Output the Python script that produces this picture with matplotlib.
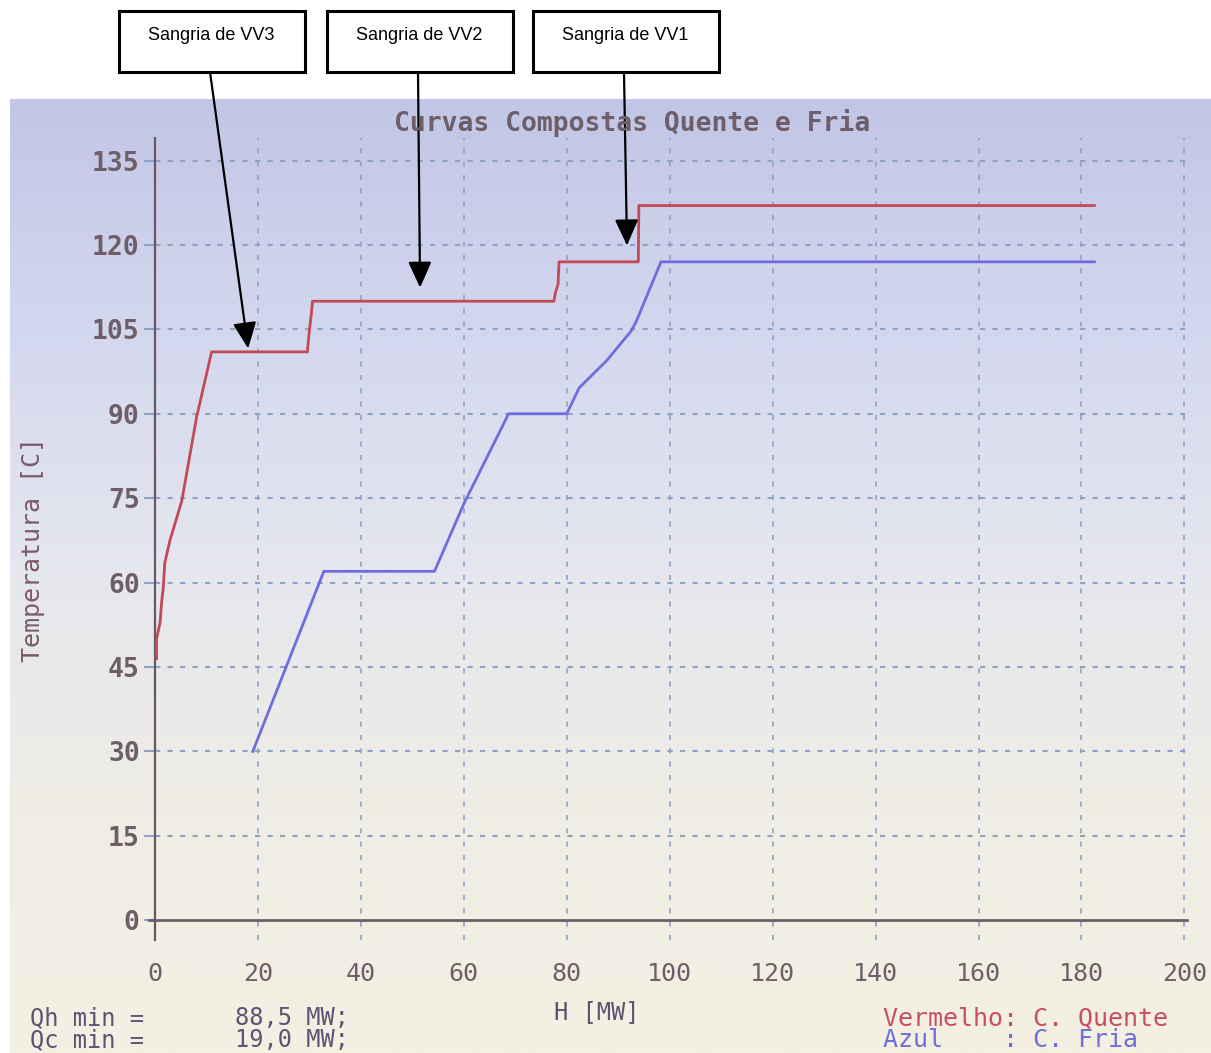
import numpy as np
import matplotlib
matplotlib.use('Agg')
import matplotlib.pyplot as plt
from matplotlib.patches import Rectangle
from matplotlib.ticker import MultipleLocator

# Hot composite curve (Vermelho)
hot_H = [0.3, 0.3, 1.0, 1.3, 1.6, 1.9, 2.9, 5.2, 8.1, 11.0, 29.6, 29.9, 30.4, 30.6,
         77.5, 77.8, 78.3, 78.5, 93.9, 94.0, 182.5]
hot_T = [46.5, 50.0, 53.0, 56.7, 59.0, 63.5, 67.5, 74.5, 89.5, 101.0, 101.0, 104.0, 108.0, 110.0,
         110.0, 111.5, 113.0, 117.0, 117.0, 127.0, 127.0]

# Cold composite curve (Azul)
cold_H = [19.0, 32.8, 54.3, 60.0, 68.7, 80.0, 82.4, 87.8, 92.5, 93.5, 98.3, 182.5]
cold_T = [30.0, 62.0, 62.0, 74.0, 90.0, 90.0, 94.6, 99.5, 104.7, 106.4, 117.0, 117.0]

x_ticks = [0, 20, 40, 60, 80, 100, 120, 140, 160, 180, 200]
y_ticks = [0, 15, 30, 45, 60, 75, 90, 105, 120, 135]

# steam extraction callouts: label, box left edge [px], arrow target (H, T)
bleed_labels = ['Sangria de VV3', 'Sangria de VV2', 'Sangria de VV1']
bleed_box_x = [119, 327, 533]
bleed_target_H = [18.1, 51.5, 91.7]
bleed_target_T = [101.6, 112.4, 119.9]

qh_min = '88,5'
qc_min = '19,0'

W, H = 1211, 1053
fig = plt.figure(figsize=(W / 100, H / 100), dpi=100)
fig.patch.set_facecolor('white')

def fx(px):
    return px / W

def fy(py):
    return 1 - py / H

# screen background: lavender at the top fading to cream at the bottom
bg = fig.add_axes([fx(10), 0, 1 - fx(10), fy(99)])
stops = np.array([[194, 198, 230], [212, 216, 238], [230, 231, 238], [239, 237, 229], [244, 240, 226]]) / 255
pos = np.linspace(0, 1, len(stops))
t = np.linspace(0, 1, 400)
grad = np.stack([np.interp(t, pos, stops[:, c]) for c in range(3)], axis=-1)
bg.imshow(grad[:, None, :], aspect='auto', extent=[0, 1, 0, 1])
bg.set_axis_off()
bg.set_zorder(-5)

mono = 'DejaVu Sans Mono'
tick_col = '#6e5e68'
axis_col = '#6a5660'
grid_col = '#8ea2c6'

ax = fig.add_axes([fx(155), fy(940), fx(1187) - fx(155), fy(138) - fy(940)])
ax.set_facecolor('none')
ax.set_xlim(0, 200.5)
ax.set_ylim(-3.5, 139)

ax.xaxis.set_major_locator(MultipleLocator(20))
ax.yaxis.set_major_locator(MultipleLocator(15))
ax.set_xticks(x_ticks)
ax.set_yticks(y_ticks)
ax.set_xticklabels([str(v) for v in x_ticks], family=mono, fontsize=18, color=tick_col)
ax.set_yticklabels([str(v) for v in y_ticks], family=mono, fontsize=19, color=tick_col, weight='bold')
ax.tick_params(axis='x', length=0, pad=16)
ax.tick_params(axis='y', length=8, width=1.5, color=grid_col, pad=3)

for v in x_ticks[1:]:
    ax.axvline(v, color=grid_col, lw=1.2, ls=(0, (3, 5)), zorder=1)
for v in y_ticks[1:]:
    ax.axhline(v, color=grid_col, lw=1.5, ls=(0, (2.5, 3.5)), zorder=1)

for s in ['top', 'right', 'bottom']:
    ax.spines[s].set_visible(False)
ax.spines['left'].set_color(axis_col)
ax.spines['left'].set_linewidth(1.6)
ax.axhline(0, xmin=-0.006, xmax=1.0, color='#6b6068', lw=2.0, clip_on=False, zorder=2)

ax.plot(hot_H, hot_T, color='#c24a56', lw=2.0, zorder=3)
ax.plot(cold_H, cold_T, color='#6d6de0', lw=2.0, zorder=3)

fig.text(fx(632), fy(123), 'Curvas Compostas Quente e Fria', family=mono, fontsize=19,
         weight='bold', color='#6e5e6a', ha='center', va='center')
fig.text(fx(33), fy(550), 'Temperatura [C]', family=mono, fontsize=18, color='#7a5a66',
         rotation=90, ha='center', va='center')
fig.text(fx(597), fy(1012), 'H [MW]', family=mono, fontsize=17, color='#5c5470',
         ha='center', va='center')

fig.text(fx(30), fy(1018), 'Qh min =', family=mono, fontsize=17, color='#5c5472', va='center')
fig.text(fx(30), fy(1040), 'Qc min =', family=mono, fontsize=17, color='#5c5472', va='center')
fig.text(fx(235), fy(1018), qh_min + ' MW;', family=mono, fontsize=17, color='#5c5472', va='center')
fig.text(fx(235), fy(1040), qc_min + ' MW;', family=mono, fontsize=17, color='#5c5472', va='center')
fig.text(fx(883), fy(1018), 'Vermelho: C. Quente', family=mono, fontsize=18, color='#c85060', va='center')
fig.text(fx(883), fy(1040), 'Azul    : C. Fria', family=mono, fontsize=18, color='#6f6fd6', va='center')

# callout boxes with arrows pointing at the hot curve
box_w, box_top, box_bot = 186, 11, 72
for label, bx, th, tt in zip(bleed_labels, bleed_box_x, bleed_target_H, bleed_target_T):
    fig.add_artist(Rectangle((fx(bx), fy(box_bot)), fx(box_w), fy(box_top) - fy(box_bot),
                             transform=fig.transFigure, facecolor='white', edgecolor='black', lw=2.2))
    cx = bx + box_w / 2 - 1
    fig.text(fx(cx), fy(36), label, family='Liberation Sans', fontsize=13, color='black',
             ha='center', va='center')
    ax.annotate('', xy=(th, tt), xycoords='data', xytext=(fx(cx - 1), fy(box_bot)),
                textcoords='figure fraction', annotation_clip=False,
                arrowprops=dict(arrowstyle='-|>,head_length=1.0,head_width=0.45', color='black',
                                lw=1.6, mutation_scale=16, shrinkA=0, shrinkB=0))

fig.savefig('out.png', dpi=100)
